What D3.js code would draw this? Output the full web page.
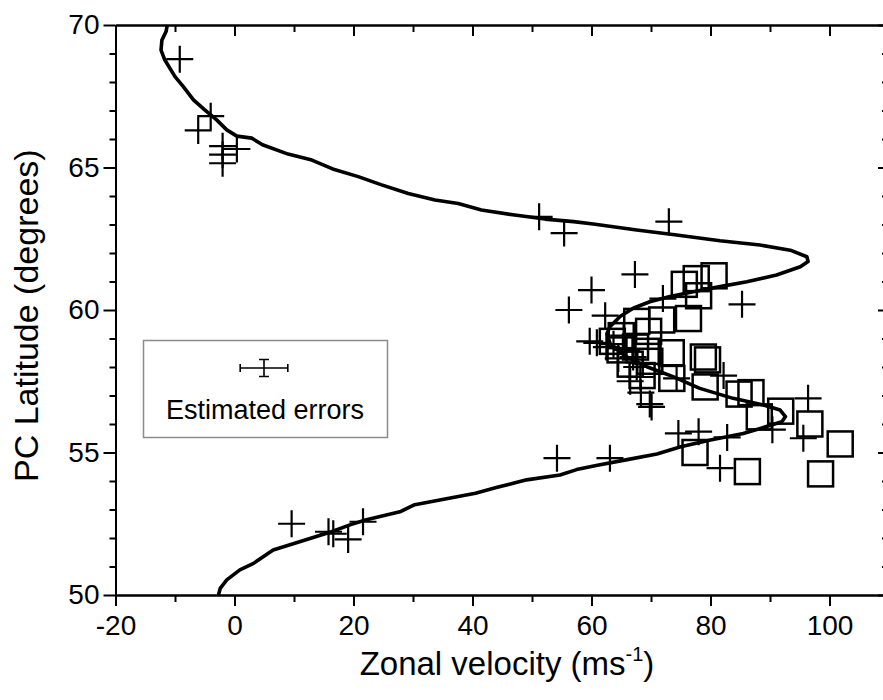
<!DOCTYPE html>
<html>
<head>
<meta charset="utf-8">
<script src="https://cdn.jsdelivr.net/npm/d3@7"></script>
<style>
  body { margin: 0; background: #fff; }
  svg text { font-family: "Liberation Sans", Arial, sans-serif; fill: #000; }
</style>
</head>
<body>
<div id="chart"></div>
<script>
// Model profile: [latitude, zonal velocity]
const profileLat = [70.0, 69.77, 69.47, 69.12, 68.77, 68.19, 67.84, 67.37, 67.02, 66.67, 66.32, 66.1, 66.03, 65.8, 65.47, 65.26, 64.95, 64.68, 64.4, 64.09, 63.86, 63.74, 63.51, 63.33, 63.19, 63.1, 63.02, 62.81, 62.63, 62.43, 62.28, 62.1, 61.87, 61.7, 61.52, 61.23, 60.99, 60.82, 60.64, 60.47, 60.29, 60.06, 59.77, 59.41, 59.18, 58.83, 58.36, 58.01, 57.66, 57.25, 56.9, 56.67, 56.49, 56.26, 56.08, 55.91, 55.67, 55.44, 55.2, 54.95, 54.75, 54.55, 54.4, 54.21, 54.04, 53.77, 53.57, 53.33, 53.17, 52.92, 52.63, 52.46, 52.22, 51.81, 51.58, 51.11, 50.88, 50.53, 50.23, 50.0];
const profileVel = [-11.3, -11.5, -12.2, -12.35, -11.7, -10.0, -8.6, -6.9, -5.0, -3.0, -1.3, 0.4, 2.9, 4.7, 9.0, 13.0, 16.5, 20.8, 24.6, 29.2, 33.7, 37.6, 41.5, 47.1, 52.2, 57.0, 60.3, 67.6, 74.3, 81.6, 88.3, 93.4, 96.2, 96.4, 95.1, 91.1, 86.1, 81.6, 77.1, 73.2, 69.8, 67.0, 64.8, 63.1, 62.6, 63.1, 65.9, 69.3, 73.7, 78.2, 83.8, 88.9, 91.7, 92.6, 92.0, 89.4, 85.5, 80.0, 75.0, 71.0, 66.0, 61.0, 57.5, 54.7, 49.1, 44.0, 40.5, 34.5, 30.3, 27.8, 22.0, 19.4, 16.3, 10.0, 6.5, 3.2, 0.9, -1.3, -2.4, -2.7];

// Observations shown as crosses: velocity, latitude
const crossVel = [-9.2, -4.0, -6.1, -2.0, 0.4, -2.0, -2.0, 51.2, 55.4, 73.0, 67.3, 60.0, 56.2, 85.3, 72.0, 62.3, 59.7, 60.9, 63.7, 65.4, 65.9, 67.0, 67.6, 68.2, 68.3, 69.8, 70.1, 74.3, 82.2, 62.5, 64.5, 66.5, 96.4, 90.4, 95.6, 74.6, 78.0, 82.8, 81.6, 63.1, 54.2, 9.6, 15.8, 16.6, 19.1, 21.6];
const crossLat = [68.8, 66.8, 66.3, 65.75, 65.65, 65.45, 65.15, 63.27, 62.7, 63.1, 61.25, 60.7, 60.0, 60.2, 60.4, 59.8, 58.9, 58.85, 58.8, 59.1, 58.6, 58.35, 58.0, 57.65, 57.1, 56.7, 56.6, 57.6, 57.7, 58.7, 58.3, 57.5, 56.9, 55.8, 55.5, 55.67, 55.73, 55.53, 54.45, 54.8, 54.8, 52.5, 52.22, 52.15, 51.95, 52.57];

// Observations shown as open squares: velocity, latitude
const squareVel = [80.6, 77.6, 75.6, 78.0, 76.3, 71.8, 67.6, 69.6, 64.8, 67.4, 69.5, 73.4, 78.8, 79.5, 66.5, 69.8, 73.5, 79.1, 84.8, 86.8, 88.2, 91.8, 96.7, 101.8, 98.5, 86.2, 77.4, 63.5, 65.0, 68.5];
const squareLat = [61.2, 61.1, 60.9, 60.5, 59.7, 59.65, 59.6, 59.25, 58.6, 58.7, 58.55, 58.5, 58.35, 58.25, 58.1, 58.2, 57.6, 57.3, 57.05, 57.1, 56.25, 56.45, 56.0, 55.3, 54.25, 54.33, 55.0, 58.9, 59.1, 57.7];

// Legend error bar half-widths: velocity (ms-1), latitude (degrees)
const errorVel = 4;
const errorLat = 0.3;

const xMajor = [-20, 0, 20, 40, 60, 80, 100];
const xMinor = [-10, 10, 30, 50, 70, 90, 110];
const yMajor = [50, 55, 60, 65, 70];
const yMinor = d3.range(51, 70).filter(v => v % 5 !== 0);

const width = 883, height = 700;
const x = d3.scaleLinear().domain([-20, 110]).range([115.5, 889]);
const y = d3.scaleLinear().domain([50, 70]).range([595, 25]);

const svg = d3.select("#chart").append("svg")
    .attr("width", width)
    .attr("height", height);

const plain = d => String(d);   // keep the ASCII hyphen in "-20"

function styleAxis(g) {
    g.select(".domain").attr("stroke", "#000").attr("stroke-width", 2);
    g.selectAll(".tick line").attr("stroke", "#000").attr("stroke-width", 2);
    g.selectAll(".tick text").attr("font-size", 28).attr("font-family", "Liberation Sans, Arial, sans-serif");
}

// bottom axis
svg.append("g")
    .attr("transform", `translate(0,${y(50)})`)
    .call(d3.axisBottom(x).tickValues(xMinor).tickSize(7).tickSizeOuter(0).tickFormat(""))
    .call(styleAxis);
svg.append("g")
    .attr("transform", `translate(0,${y(50)})`)
    .call(d3.axisBottom(x).tickValues(xMajor).tickSize(11).tickSizeOuter(0).tickPadding(9).tickFormat(plain))
    .call(styleAxis);

// top axis, ticks inside
svg.append("g")
    .attr("transform", `translate(0,${y(70)})`)
    .call(d3.axisTop(x).tickValues(xMinor).tickSize(-7).tickSizeOuter(0).tickFormat(""))
    .call(styleAxis);
svg.append("g")
    .attr("transform", `translate(0,${y(70)})`)
    .call(d3.axisTop(x).tickValues(xMajor).tickSize(-11).tickSizeOuter(0).tickFormat(""))
    .call(styleAxis);

// left axis
svg.append("g")
    .attr("transform", `translate(${x(-20)},0)`)
    .call(d3.axisLeft(y).tickValues(yMinor).tickSize(6).tickSizeOuter(0).tickFormat(""))
    .call(styleAxis);
svg.append("g")
    .attr("transform", `translate(${x(-20)},0)`)
    .call(d3.axisLeft(y).tickValues(yMajor).tickSize(12).tickSizeOuter(0).tickPadding(4).tickFormat(plain))
    .call(styleAxis);

// right axis, ticks inside (line itself falls just past the edge)
svg.append("g")
    .attr("transform", `translate(${x(110)},0)`)
    .call(d3.axisRight(y).tickValues(yMinor).tickSize(-7).tickSizeOuter(0).tickFormat(""))
    .call(styleAxis);
svg.append("g")
    .attr("transform", `translate(${x(110)},0)`)
    .call(d3.axisRight(y).tickValues(yMajor).tickSize(-11).tickSizeOuter(0).tickFormat(""))
    .call(styleAxis);

// axis titles
const xTitle = svg.append("text")
    .attr("x", 507)
    .attr("y", 675)
    .attr("text-anchor", "middle")
    .attr("font-size", 33);
xTitle.append("tspan").text("Zonal velocity (ms");
xTitle.append("tspan").attr("font-size", 20).attr("dy", -14).text("-1");
xTitle.append("tspan").attr("dy", 14).text(")");

svg.append("text")
    .attr("transform", `translate(38,${y(59.8)}) rotate(-90)`)
    .attr("text-anchor", "middle")
    .attr("font-size", 34)
    .text("PC Latitude (degrees)");

// model curve
const profile = profileLat.map((lat, i) => ({ lat: lat, vel: profileVel[i] }));
svg.append("path")
    .datum(profile)
    .attr("fill", "none")
    .attr("stroke", "#000")
    .attr("stroke-width", 3.6)
    .attr("stroke-linejoin", "round")
    .attr("d", d3.line().x(d => x(d.vel)).y(d => y(d.lat)));

// squares
const sq = 25;
svg.append("g")
    .selectAll("rect")
    .data(squareVel.map((v, i) => ({ vel: v, lat: squareLat[i] })))
    .join("rect")
    .attr("x", d => x(d.vel) - sq / 2)
    .attr("y", d => y(d.lat) - sq / 2)
    .attr("width", sq)
    .attr("height", sq)
    .attr("fill", "none")
    .attr("stroke", "#000")
    .attr("stroke-width", 2.5);

// crosses
const cr = 13.5;
svg.append("g")
    .selectAll("path")
    .data(crossVel.map((v, i) => ({ vel: v, lat: crossLat[i] })))
    .join("path")
    .attr("d", d => {
        const cx = x(d.vel), cy = y(d.lat);
        return `M${cx - cr},${cy}H${cx + cr}M${cx},${cy - cr}V${cy + cr}`;
    })
    .attr("fill", "none")
    .attr("stroke", "#000")
    .attr("stroke-width", 2.2);

// legend
const legend = svg.append("g");
legend.append("rect")
    .attr("x", 143.5)
    .attr("y", 340.5)
    .attr("width", 244)
    .attr("height", 97)
    .attr("fill", "#fff")
    .attr("stroke", "#8c8c8c")
    .attr("stroke-width", 1.5);

const lx = 264, ly = 368;
const hx = x(errorVel) - x(0);
const hy = y(0) - y(errorLat);
legend.append("path")
    .attr("d", `M${lx - hx},${ly}H${lx + hx}M${lx - hx},${ly - 4}V${ly + 4}M${lx + hx},${ly - 4}V${ly + 4}` +
               `M${lx},${ly - hy}V${ly + hy}M${lx - 5},${ly - hy}H${lx + 5}M${lx - 5},${ly + hy}H${lx + 5}`)
    .attr("fill", "none")
    .attr("stroke", "#000")
    .attr("stroke-width", 1.6);

legend.append("text")
    .attr("x", 265)
    .attr("y", 419)
    .attr("text-anchor", "middle")
    .attr("font-size", 27)
    .text("Estimated errors");
</script>
</body>
</html>
